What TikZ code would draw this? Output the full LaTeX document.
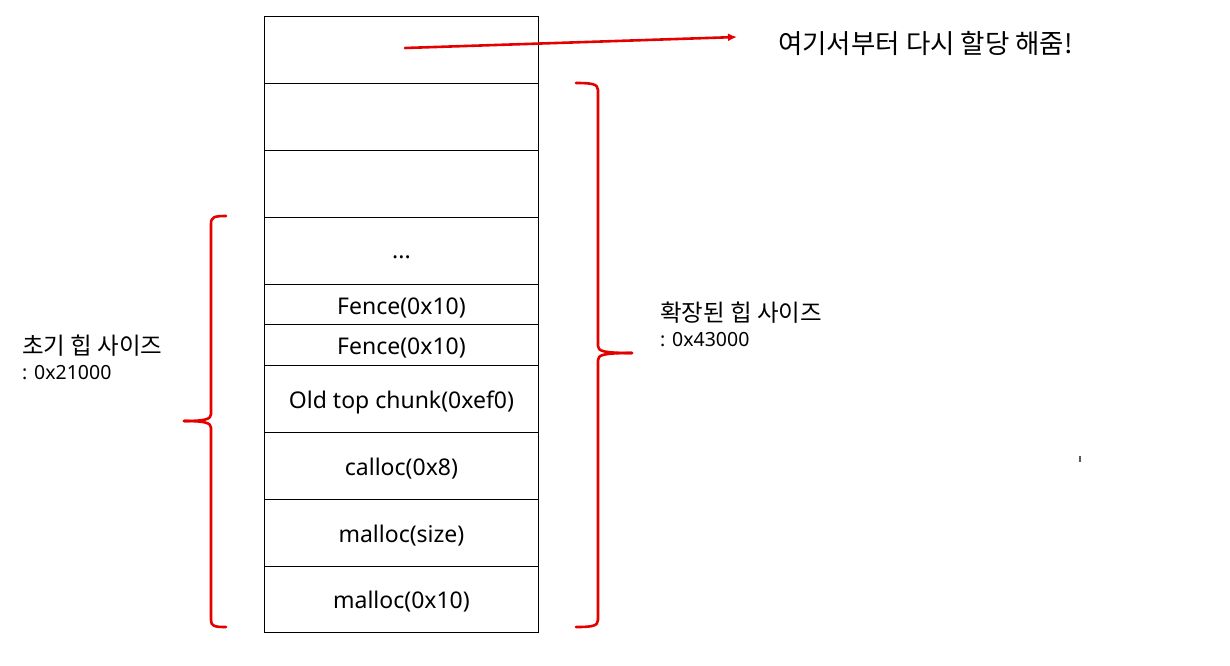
\documentclass[tikz,border=0pt]{standalone}
\usepackage{fontspec}
\setmainfont{Noto Sans}
\newfontfamily\kr{Noto Sans CJK KR}
\usetikzlibrary{arrows.meta}
\newcommand{\lowr}[2]{\raisebox{-#1}[\height][\depth]{#2}}
\begin{document}
\begin{tikzpicture}[x=1pt,y=-1pt,
  cell/.style={draw=black, line width=0.9pt, minimum width=274pt, inner sep=0pt, anchor=north west, font=\fontsize{23}{26}\selectfont},
  redline/.style={draw=red!90!black, line width=2.6pt, line cap=round, line join=round},
  lbl/.style={anchor=west, align=left, inner sep=0pt, font=\fontsize{19.5}{25}\selectfont}]
\useasboundingbox (0,0) rectangle (1230,665);
\node[cell, minimum height=67pt] (r1) at (264,16) {};
\node[cell, minimum height=67pt] (r2) at (264,83) {};
\node[cell, minimum height=67pt] (r3) at (264,150) {};
\node[cell, minimum height=67pt] (r4) at (264,217) {\lowr{6pt}{...}};
\node[cell, minimum height=40pt] (r5) at (264,284) {\lowr{3.5pt}{Fence(0x10)}};
\node[cell, minimum height=41pt] (r6) at (264,324) {\lowr{3.5pt}{Fence(0x10)}};
\node[cell, minimum height=67pt] (r7) at (264,365) {\lowr{3.5pt}{Old top chunk(0xef0)}};
\node[cell, minimum height=67pt] (r8) at (264,432) {\lowr{3pt}{calloc(0x8)}};
\node[cell, minimum height=67pt] (r9) at (264,499) {\lowr{3pt}{malloc(size)}};
\node[cell, minimum height=66pt] (r10) at (264,566) {\lowr{2.5pt}{malloc(0x10)}};
% message and arrow
\node[anchor=west, inner sep=0pt, font=\kr\fontsize{26.5}{29}\selectfont] (msg) at (778,43) {여기서부터 다시 할당 해줌!};
\coordinate (src) at (405,48);
\coordinate (tgt) at (737,37);
\draw[redline, -{Latex[length=9pt,width=8pt]}] (src) -- (tgt);
% left brace
\draw[redline] (226,216) .. controls (214,216) and (211,217) .. (211,224) -- (211,414)
  .. controls (211,419) and (206,421) .. (184,421);
\draw[redline] (184,421) .. controls (206,421) and (211,423) .. (211,428) -- (211,620)
  .. controls (211,626) and (214,627) .. (226,627);
% right brace
\draw[redline] (576,83) .. controls (592,83) and (598,84) .. (598,90) -- (598,346)
  .. controls (598,351) and (603,353) .. (632,353);
\draw[redline] (632,353) .. controls (603,353) and (598,355) .. (598,360) -- (598,620)
  .. controls (598,626) and (592,627) .. (576,627);
% labels
\node[lbl] (initlbl) at (22,357) {{\kr\fontsize{23.5}{25}\selectfont 초기 힙 사이즈}\\: 0x21000};
\node[lbl] (extlbl) at (660,324) {{\kr\fontsize{23.5}{25}\selectfont 확장된 힙 사이즈}\\: 0x43000};
% small mark
\draw[gray!70!black, line width=1.4pt] (1080,456) -- (1080,462);
\end{tikzpicture}
\end{document}
